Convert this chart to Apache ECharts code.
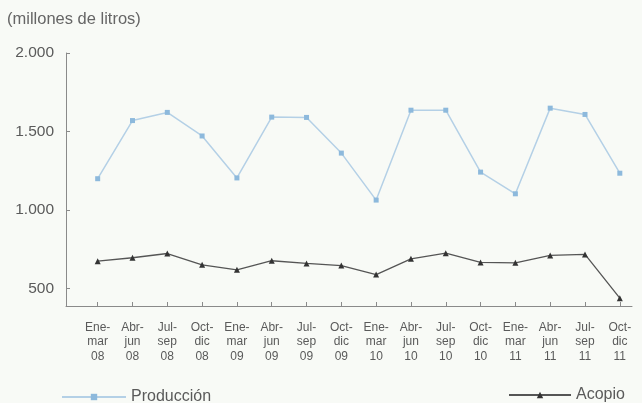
<!DOCTYPE html>
<html><head><meta charset="utf-8">
<script src="https://cdn.jsdelivr.net/npm/echarts@6/dist/echarts.min.js"></script>
<style>html,body{margin:0;padding:0;background:#f8faf6}#c{width:642px;height:403px}</style>
</head><body><div id="c"></div>
<script>
const categories = ["Ene-\nmar\n08","Abr-\njun\n08","Jul-\nsep\n08","Oct-\ndic\n08","Ene-\nmar\n09","Abr-\njun\n09","Jul-\nsep\n09","Oct-\ndic\n09","Ene-\nmar\n10","Abr-\njun\n10","Jul-\nsep\n10","Oct-\ndic\n10","Ene-\nmar\n11","Abr-\njun\n11","Jul-\nsep\n11","Oct-\ndic\n11"];
const produccion = [1200,1570,1622,1472,1205,1592,1590,1363,1064,1636,1636,1242,1104,1649,1609,1235];
const acopio = [675,697,724,652,620,678,661,647,590,690,726,667,665,712,718,440];
const yTicks = [500,1000,1500,2000];
const unitLabel = "(millones de litros)";

const idx = categories.map((_, i) => i);
const fmtNum = v => String(v).replace(/\B(?=(\d{3})+(?!\d))/g, '.');
const font = 'Liberation Sans, Arial, sans-serif';
const chart = echarts.init(document.getElementById('c'));
chart.setOption({
  backgroundColor: '#f8faf6',
  animation: false,
  textStyle: {fontFamily: font},
  title: {text: unitLabel, left: 2, top: 6, textStyle: {fontSize: 16.5, fontWeight: 'normal', color: '#666', fontFamily: font}},
  grid: {left: 66, right: 10, top: 53, bottom: 97},
  xAxis: {
    type: 'value', min: -0.91, max: 15.35,
    axisLine: {show: true, onZero: false, lineStyle: {color: '#8a8a8a', width: 1}},
    axisTick: {show: true, customValues: idx, length: 4, inside: true, lineStyle: {color: '#8a8a8a'}},
    axisLabel: {customValues: idx, formatter: v => categories[Math.round(v)], color: '#5a5a5a', fontSize: 12, lineHeight: 14.5, margin: 14},
    splitLine: {show: false}
  },
  yAxis: {
    type: 'value', min: 390, max: 2000,
    axisLine: {show: true, onZero: false, lineStyle: {color: '#8a8a8a', width: 1}},
    axisTick: {show: true, customValues: yTicks, length: 4, inside: true, lineStyle: {color: '#8a8a8a'}},
    axisLabel: {customValues: yTicks, formatter: v => fmtNum(v), color: '#5a5a5a', fontSize: 15.5, margin: 12},
    splitLine: {show: false}
  },
  legend: [
    {data: ['Producción'], left: 56, top: 384, itemWidth: 64, itemHeight: 8, itemGap: 10,
     textStyle: {fontSize: 16, color: '#5a5a5a', fontFamily: font}},
    {data: ['Acopio'], left: 503, top: 382, itemWidth: 62, itemHeight: 8, itemGap: 10,
     textStyle: {fontSize: 16, color: '#5a5a5a', fontFamily: font}}
  ],
  series: [
    {name: 'Producción', type: 'line', data: produccion.map((v, i) => [i, v]),
     symbol: 'rect', symbolSize: 5, itemStyle: {color: '#8db9dc'},
     lineStyle: {color: '#b4d0e6', width: 1.5}},
    {name: 'Acopio', type: 'line', data: acopio.map((v, i) => [i, v]),
     symbol: 'triangle', symbolSize: 6, itemStyle: {color: '#333'},
     lineStyle: {color: '#555', width: 1.3}}
  ]
});
</script></body></html>
